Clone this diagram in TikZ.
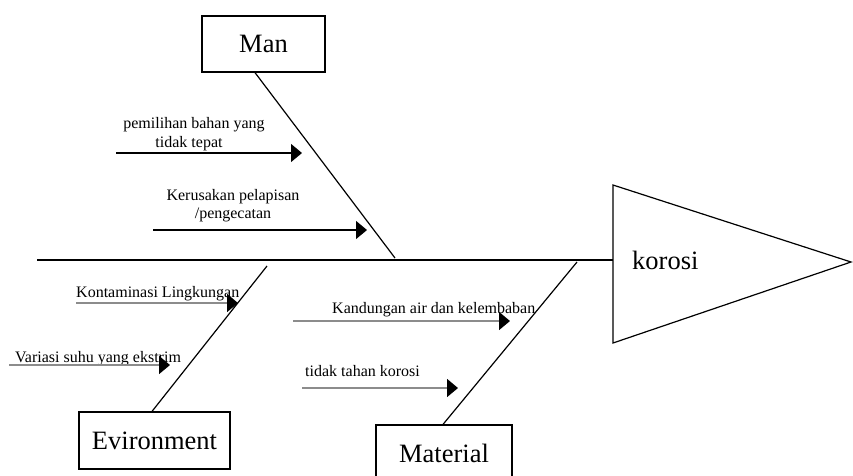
\documentclass[tikz,border=0pt]{standalone}
\usepackage{fontspec}
\setmainfont{Liberation Serif}
\usetikzlibrary{arrows.meta}
\begin{document}
\begin{tikzpicture}[x=1pt,y=-1pt,
  bigfont/.style={font=\fontsize{26.5}{30}\selectfont},
  bigbox/.style={draw, line width=1.2pt, inner sep=0pt, bigfont},
  small/.style={inner sep=0pt, font=\fontsize{16}{19}\selectfont},
  cause/.style={line width=1.3pt, -{Triangle[length=11pt,width=18pt]}},
  causegray/.style={line width=1.6pt, draw=black!45, -{Triangle[length=11pt,width=18pt,color=black]}},
  bone/.style={line width=1.2pt}]
\useasboundingbox (0,0) rectangle (853,475);
\clip (0,0) rectangle (853,475);

% category boxes
\node[bigbox, minimum width=123pt, minimum height=56pt] (man) at (263.5,44) {Man};
\node[bigbox, minimum width=151pt, minimum height=57pt] (env) at (154.5,440.5) {Evironment};
\node[bigbox, minimum width=136pt, minimum height=57pt] (mat) at (444,453.5) {Material};

% head (triangle)
\coordinate (triTop) at (613,185);
\coordinate (triBot) at (613,343);
\coordinate (triTip) at (851,262);
\draw[line width=1.2pt] (triTop) -- (triTip) -- (triBot) -- cycle;
\node[bigfont, inner sep=0pt, anchor=base west] (korosi) at (632,269) {korosi};

% spine
\coordinate (spineStart) at (37,260);
\coordinate (spineEnd) at (613,260);
\draw[line width=1.4pt] (spineStart) -- (spineEnd);

% bones
\coordinate (manEnd) at (395,258);
\coordinate (envEnd) at (267,266);
\coordinate (matEnd) at (577,262);
\draw[bone] ([xshift=-8.5pt]man.south) -- (manEnd);
\draw[bone] ([xshift=-2.5pt]env.north) -- (envEnd);
\draw[bone] ([xshift=-1pt]mat.north) -- (matEnd);

% Man causes
\node[small, anchor=base] (l1a) at (194,128) {pemilihan bahan yang};
\node[small, anchor=base] (l1b) at (189,147) {tidak tepat};
\coordinate (a1s) at (116,153);
\coordinate (a1e) at (302,153);
\draw[cause] (a1s) -- (a1e);

\node[small, anchor=base] (l2a) at (233,200) {Kerusakan pelapisan};
\node[small, anchor=base] (l2b) at (233,218) {/pengecatan};
\coordinate (a2s) at (153,230);
\coordinate (a2e) at (367,230);
\draw[cause] (a2s) -- (a2e);

% Environment causes
\node[small, anchor=base west] (l3) at (76,297) {Kontaminasi Lingkungan};
\coordinate (a3s) at (76,303);
\coordinate (a3e) at (238,303);
\draw[causegray] (a3s) -- (a3e);

\node[small, anchor=base west] (l4) at (15,362) {Variasi suhu yang ekstrim};
\coordinate (a4s) at (9,365);
\coordinate (a4e) at (170,365);
\draw[causegray] (a4s) -- (a4e);

% Material causes
\node[small, anchor=base west] (l5) at (332,313) {Kandungan air dan kelembaban};
\coordinate (a5s) at (293,321);
\coordinate (a5e) at (510,321);
\draw[causegray] (a5s) -- (a5e);

\node[small, anchor=base west] (l6) at (305,376) {tidak tahan korosi};
\coordinate (a6s) at (302,388);
\coordinate (a6e) at (458,388);
\draw[causegray] (a6s) -- (a6e);
\end{tikzpicture}
\end{document}
